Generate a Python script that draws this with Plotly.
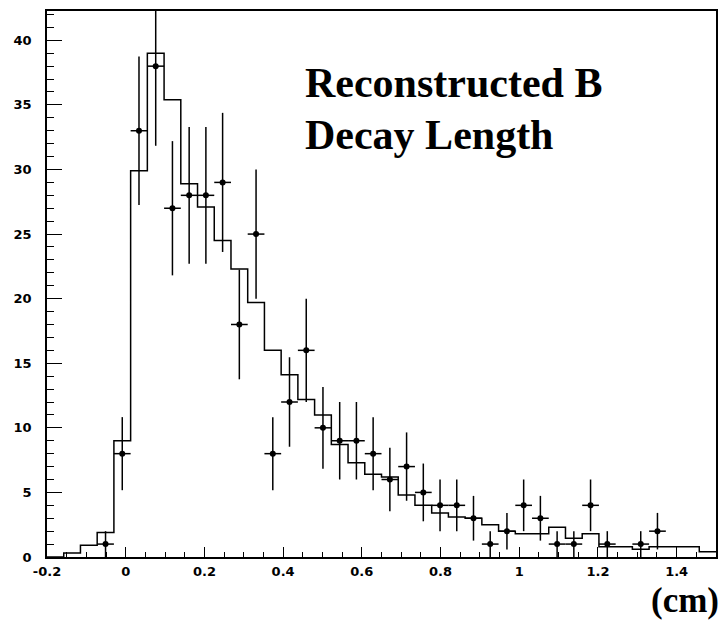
import numpy as np
import plotly.graph_objects as go

# ---- data ----
bin_low = -0.2
bin_width = 0.0425
# MC expectation histogram (40 bins from -0.2 to 1.5)
mc_values = [0.0, 0.3, 0.9, 1.9, 9.0, 29.9, 39.0, 35.4, 28.9, 27.1,
             24.5, 22.3, 19.7, 16.0, 14.1, 12.2, 11.0, 8.7, 7.3, 6.4,
             6.2, 4.8, 4.0, 3.4, 3.1, 3.0, 2.5, 2.0, 1.8, 1.8,
             2.3, 1.45, 1.8, 0.8, 0.8, 0.6, 0.8, 0.8, 0.8, 0.4]
# data counts: bin index -> count
data_bins = [3, 4, 5, 6, 7, 8, 9, 10, 11, 12, 13, 14, 15, 16, 17, 18, 19, 20,
             21, 22, 23, 24, 25, 26, 27, 28, 29, 30, 31, 32, 33, 35, 36]
data_counts = [1, 8, 33, 38, 27, 28, 28, 29, 18, 25, 8, 12, 16, 10, 9, 9, 8, 6,
               7, 5, 4, 4, 3, 1, 2, 4, 3, 1, 1, 4, 1, 1, 2]
x_tick_vals = [-0.2, 0, 0.2, 0.4, 0.6, 0.8, 1.0, 1.2, 1.4]
x_tick_text = ["-0.2", "0", "0.2", "0.4", "0.6", "0.8", "1", "1.2", "1.4"]
y_tick_vals = [0, 5, 10, 15, 20, 25, 30, 35, 40]

edges = bin_low + bin_width * np.arange(len(mc_values) + 1)
mc_y = list(mc_values) + [mc_values[-1]]
centers = bin_low + bin_width * (np.array(data_bins) + 0.5)
counts = np.array(data_counts, dtype=float)

fig = go.Figure()
fig.add_trace(go.Scatter(
    x=edges, y=mc_y, mode="lines", line=dict(shape="hv", color="black", width=1.5),
    showlegend=False, hoverinfo="skip"))
fig.add_trace(go.Scatter(
    x=centers, y=counts, mode="markers",
    marker=dict(symbol="circle", size=6, color="black"),
    error_x=dict(type="constant", value=bin_width / 2, width=0, thickness=1.5, color="black"),
    error_y=dict(type="data", array=np.sqrt(counts), width=0, thickness=1.5, color="black"),
    showlegend=False))

tickfont = dict(family="DejaVu Sans", size=13, color="black", weight="bold")
fig.update_xaxes(
    range=[-0.2, 1.5], showgrid=False, zeroline=False,
    showline=True, linecolor="black", linewidth=1.5, mirror=True,
    ticks="inside", ticklen=10, tickwidth=1.2, tickcolor="black",
    tickvals=x_tick_vals, ticktext=x_tick_text, tickfont=tickfont,
    ticklabelstandoff=2,
    minor=dict(ticks="inside", dtick=0.05, tick0=0, ticklen=5, tickwidth=1.2, tickcolor="black"))
fig.update_yaxes(
    range=[0, 42.27], showgrid=False, zeroline=False,
    showline=True, linecolor="black", linewidth=1.5, mirror=True,
    ticks="inside", ticklen=15, tickwidth=1.2, tickcolor="black",
    tickvals=y_tick_vals, tickfont=tickfont, ticklabelstandoff=11,
    minor=dict(ticks="inside", dtick=1, tick0=0, ticklen=7, tickwidth=1.2, tickcolor="black"))

serif = dict(family="Liberation Serif, Times New Roman, serif", size=42, color="black", weight="bold")
fig.add_annotation(text="Reconstructed B", xref="paper", yref="paper",
                   x=(303 - 47) / 669, y=(557 - 83) / 546.3, xanchor="left", yanchor="middle",
                   showarrow=False, font=serif)
fig.add_annotation(text="Decay Length", xref="paper", yref="paper",
                   x=(303 - 47) / 669, y=(557 - 135) / 546.3, xanchor="left", yanchor="middle",
                   showarrow=False, font=serif)
fig.add_annotation(text="(cm)", xref="paper", yref="paper",
                   x=(721 - 47) / 669, y=(557 - 601) / 546.3, xanchor="right", yanchor="middle",
                   showarrow=False, font=dict(family="Liberation Serif, Times New Roman, serif",
                                              size=35, color="black", weight="bold"))

fig.update_layout(
    width=726, height=623, autosize=False,
    margin=dict(l=47, r=10, t=11, b=66, autoexpand=False),
    paper_bgcolor="white", plot_bgcolor="white")

fig.write_html("out.html", config={"displayModeBar": False},
               post_script="document.body.style.margin='0';document.body.style.overflow='hidden';")
